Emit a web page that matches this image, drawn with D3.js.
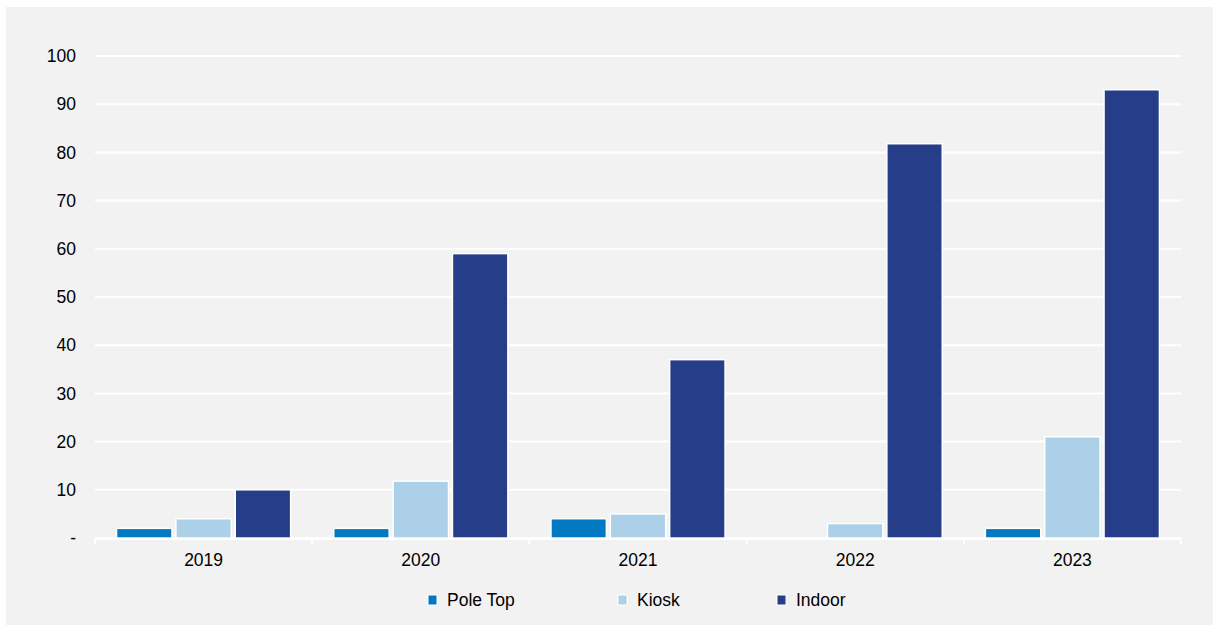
<!DOCTYPE html>
<html>
<head>
<meta charset="utf-8">
<script src="https://cdn.jsdelivr.net/npm/d3@7"></script>
<style>
  body { margin: 0; background: #fff; }
  svg { display: block; }
</style>
</head>
<body>
<div id="chart"></div>
<script>
const years = ['2019', '2020', '2021', '2022', '2023'];
const seriesNames = ['Pole Top', 'Kiosk', 'Indoor'];
const poleTop = [2, 2, 4, 0, 2];
const kiosk = [4, 11.8, 5, 3, 21];
const indoor = [10, 59, 37, 81.8, 93];
const yTicks = [0, 10, 20, 30, 40, 50, 60, 70, 80, 90, 100];
const colors = ['#0079c1', '#abd0e8', '#263d8a'];

const width = 1213, height = 626;
const margin = {left: 95, right: 32, top: 56, bottom: 88};
const fontFamily = 'Liberation Sans, Arial, sans-serif';
const fontSize = '17.5px';

const svg = d3.select('#chart').append('svg')
    .attr('width', width)
    .attr('height', height);

// grey panel
svg.append('rect')
    .attr('x', 6).attr('y', 7)
    .attr('width', width - 6).attr('height', 618)
    .attr('fill', '#f2f2f2');

const x = d3.scaleBand()
    .domain(years)
    .range([margin.left, width - margin.right]);

const y = d3.scaleLinear()
    .domain([0, 100])
    .range([height - margin.bottom, margin.top]);

const x1 = d3.scaleBand()
    .domain(seriesNames)
    .range([0, x.bandwidth()])
    .paddingOuter(0.38)
    .paddingInner(0.1);

// gridlines
svg.append('g')
    .selectAll('line')
    .data(yTicks)
    .enter().append('line')
    .attr('x1', margin.left)
    .attr('x2', width - margin.right)
    .attr('y1', d => y(d))
    .attr('y2', d => y(d))
    .attr('stroke', '#fff')
    .attr('stroke-width', 2);

// y axis labels
const yAxis = d3.axisLeft(y)
    .tickValues(yTicks)
    .tickSize(0)
    .tickPadding(19)
    .tickFormat(d => d === 0 ? '-' : d);

svg.append('g')
    .attr('transform', `translate(${margin.left},0)`)
    .call(yAxis)
    .call(g => g.select('.domain').remove())
    .selectAll('text')
    .style('font-family', fontFamily)
    .style('font-size', fontSize)
    .attr('fill', '#000');

// bars
const data = years.map((yr, i) => ({year: yr, values: [poleTop[i], kiosk[i], indoor[i]]}));

const groups = svg.append('g')
    .selectAll('g')
    .data(data)
    .enter().append('g')
    .attr('transform', d => `translate(${x(d.year)},0)`);

groups.selectAll('rect')
    .data(d => d.values.map((v, j) => ({name: seriesNames[j], value: v, j: j})))
    .enter().append('rect')
    .filter(d => d.value > 0)
    .attr('x', d => x1(d.name) - 1)
    .attr('width', x1.bandwidth() + 2)
    .attr('y', d => y(d.value))
    .attr('height', d => y(0) - y(d.value))
    .attr('fill', d => colors[d.j])
    .attr('stroke', '#fff')
    .attr('stroke-width', 1.5);

// x axis with category boundary ticks
const xAxisG = svg.append('g');
xAxisG.append('line')
    .attr('x1', margin.left)
    .attr('x2', width - margin.right)
    .attr('y1', y(0) + 1)
    .attr('y2', y(0) + 1)
    .attr('stroke', '#fff')
    .attr('stroke-width', 2);

const bounds = years.map(d => x(d)).concat([x(years[years.length - 1]) + x.bandwidth()]);
xAxisG.selectAll('line.tick')
    .data(bounds)
    .enter().append('line')
    .attr('class', 'tick')
    .attr('x1', d => d).attr('x2', d => d)
    .attr('y1', y(0) + 1).attr('y2', y(0) + 6)
    .attr('stroke', '#fff')
    .attr('stroke-width', 2);

xAxisG.selectAll('text')
    .data(years)
    .enter().append('text')
    .attr('x', d => x(d) + x.bandwidth() / 2)
    .attr('y', y(0) + 28)
    .attr('text-anchor', 'middle')
    .style('font-family', fontFamily)
    .style('font-size', fontSize)
    .text(d => d);

// legend
const legendX = [428, 618, 777];
const legend = svg.append('g')
    .selectAll('g')
    .data(seriesNames)
    .enter().append('g')
    .attr('transform', (d, i) => `translate(${legendX[i]},600)`);

legend.append('rect')
    .attr('x', 0).attr('y', -5)
    .attr('width', 9).attr('height', 10)
    .attr('fill', (d, i) => colors[i])
    .attr('stroke', '#fff')
    .attr('stroke-width', 1);

legend.append('text')
    .attr('x', 19)
    .attr('y', 6)
    .style('font-family', fontFamily)
    .style('font-size', fontSize)
    .text(d => d);
</script>
</body>
</html>
